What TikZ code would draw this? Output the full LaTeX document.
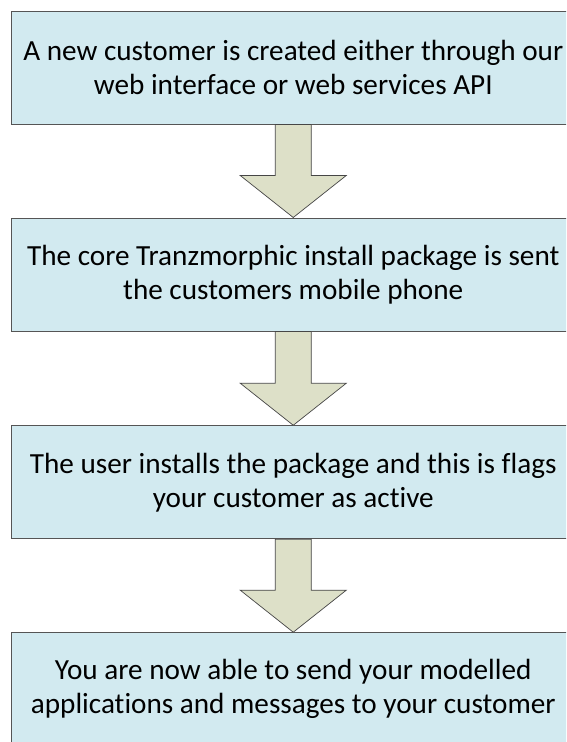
\documentclass[tikz,border=0pt]{standalone}
\usepackage{fontspec}
\setmainfont[Ligatures=CommonOff]{Carlito}
\usetikzlibrary{calc}
\definecolor{boxfill}{RGB}{210,234,240}
\definecolor{boxline}{RGB}{85,85,85}
\definecolor{arrfill}{RGB}{221,224,200}
\definecolor{arrline}{RGB}{70,70,70}
\tikzset{
  stepbox/.style={draw=boxline, line width=1pt, fill=boxfill, rectangle,
    minimum width=563.5pt, minimum height=113pt, inner sep=0pt,
    align=center, text=black, font=\fontsize{29.2}{34}\selectfont},
  flowarr/.style={draw=arrline, line width=0.7pt, fill=arrfill, line join=miter}
}
\newcommand{\flowarrow}[2]{%
  \filldraw[flowarr] ($(#1.south)+(-18,0)$) -- ($(#2.north)+(-18,-42)$)
    -- ($(#2.north)+(-53,-42)$) -- (#2.north) -- ($(#2.north)+(53,-42)$)
    -- ($(#2.north)+(18,-42)$) -- ($(#1.south)+(18,0)$) -- cycle;}
\begin{document}
\begin{tikzpicture}[x=1pt,y=-1pt]
\useasboundingbox (0,0) rectangle (566,742);
\fill[white] (0,0) rectangle (566,742);
\begin{scope}
\clip (0,0) rectangle (566,742);
\node[stepbox] (b1) at (293.25,67.5) {A new customer is created either through our\\web interface or web services API};
\node[stepbox] (b2) at (293.25,274.5) {The core Tranzmorphic install package is sent\\the customers mobile phone};
\node[stepbox] (b3) at (293.25,482.25) {The user installs the package and this is flags\\your customer as active};
\node[stepbox] (b4) at (293.25,689.2) {You are now able to send your modelled\\applications and messages to your customer};
\flowarrow{b1}{b2}
\flowarrow{b2}{b3}
\flowarrow{b3}{b4}
\end{scope}
\end{tikzpicture}
\end{document}
